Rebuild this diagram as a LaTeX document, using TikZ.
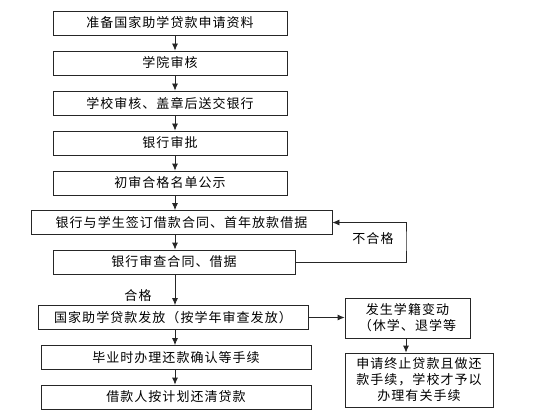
\documentclass[tikz,border=0pt]{standalone}
\usepackage{fontspec}
\setmainfont[LetterSpace=8]{Noto Sans CJK SC}
\usepackage{tikz}
\usetikzlibrary{arrows.meta}
\tikzset{
  every step box/.style={draw=black!85,line width=0.8pt,inner sep=0pt,
    minimum height=24pt,font=\fontsize{13}{16}\selectfont},
  flow arrow/.style={draw=black!85,line width=0.8pt,-{Latex[length=7pt,width=6pt]}},
}
\begin{document}
\begin{tikzpicture}[
  x=1pt,y=-1pt,
  step box/.style={every step box,minimum width=#1},
  side box/.style={every step box,minimum width=#1,align=center},
  tag/.style={font=\fontsize{13}{16}\selectfont},
]
\useasboundingbox (0,0) rectangle (554,417);
\coordinate (spine) at (175,0);
% main column
\node[step box=234] (apply)   at (170,23)    {准备国家助学贷款申请资料};
\node[step box=234] (college) at (170,63)    {学院审核};
\node[step box=234] (school)  at (170,103)   {学校审核、盖章后送交银行};
\node[step box=234] (bank)    at (170,143)   {银行审批};
\node[step box=234] (public)  at (170,183)   {初审合格名单公示};
\node[step box=301] (sign)    at (181.5,222.5) {银行与学生签订借款合同、首年放款借据};
\node[step box=242] (check)   at (174,262)   {银行审查合同、借据};
\node[step box=270] (grant)   at (173,317.5) {国家助学贷款发放（按学年审查发放）};
\node[step box=270] (confirm) at (176,357.5) {毕业时办理还款确认等手续};
\node[step box=270] (repay)   at (176,397)   {借款人按计划还清贷款};
% side column
\node[side box=125,minimum height=40pt] (change) at (407.5,318)
  {发生学籍变动\\（休学、退学等};
\node[side box=148,minimum height=54pt] (stop) at (419,380)
  {申请终止贷款且做还\\款手续，学校才予以\\办理有关手续};
\foreach \a/\b in {apply/college,college/school,school/bank,bank/public,
  public/sign,sign/check,check/grant,grant/confirm,confirm/repay}
  \draw[flow arrow] (\a.south -| spine) -- (\b.north -| spine);
% not passed
\coordinate (back) at (406,240);
\draw[flow arrow] (check.east) -| (back) |- (sign.east);
\node[tag] (fail) at (373,239) {不合格};
\node[tag] (pass) at (138,296) {合格};
\draw[flow arrow] (grant.east) -- (grant.east -| change.west);
\draw[flow arrow] (change.south -| back) -- (stop.north -| back);
\end{tikzpicture}
\end{document}
